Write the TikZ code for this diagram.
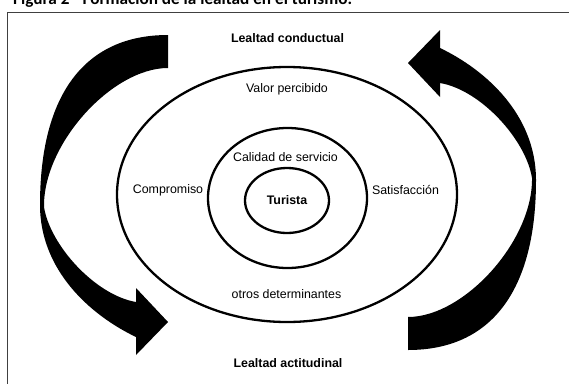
\documentclass[tikz,border=0pt]{standalone}
\usepackage{fontspec}
\setmainfont{Liberation Sans}
\newfontfamily\captionfont{Carlito}
\usetikzlibrary{shapes.geometric}

\begin{document}
\begin{tikzpicture}[x=1pt, y=-1pt,
    ring/.style={ellipse, draw, line width=2.3pt, inner sep=0pt},
    lbl/.style={font=\fontsize{12.4}{14}\selectfont, inner sep=0pt},
    lblb/.style={font=\fontsize{12.4}{14}\selectfont\bfseries, inner sep=0pt},
    frameline/.style={draw=black!75, line width=1pt},
    bentarrow/.pic={
      \fill (168,35) .. controls (85,35) and (40,94) .. (40,205)
        .. controls (40,270) and (90,315) .. (136,337)
        -- (136,355) -- (168,322) -- (136,288) -- (136,302)
        .. controls (95,295) and (50,245) .. (44,207)
        .. controls (43,144) and (112,68) .. (168,68) -- cycle;
    }]

    \useasboundingbox (0,0) rectangle (569,383);

    % caption, cut by the top edge
    \node[anchor=base west, inner sep=0pt,
          font=\captionfont\bfseries\fontsize{17.2}{20}\selectfont] (caption) at (13,4.5)
        {Figura 2 - Formación de la lealtad en el turismo.};
    \draw[frameline] (7,400) |- (600,12);

    % rings
    \node[ring, minimum width=340pt, minimum height=255pt] (outer) at (287,194.5) {};
    \node[ring, minimum width=159pt, minimum height=140pt] (middle) at (287.5,198) {};
    \node[ring, minimum width=84pt, minimum height=65pt, lblb] (inner) at (287,200.5) {Turista};

    % labels
    \node[lblb] (conduct) at (287.5,38)  {Lealtad conductual};
    \node[lbl]  (valor)   at (287,89)    {Valor percibido};
    \node[lbl]  (calidad) at (285.5,157) {Calidad de servicio};
    \node[lbl]  (comp)    at (168,190)   {Compromiso};
    \node[lbl]  (satis)   at (405.5,190) {Satisfacción};
    \node[lbl]  (otros)   at (286.5,294) {otros determinantes};
    \node[lblb] (actit)   at (288,363)   {Lealtad actitudinal};

    % loyalty arrows
    \pic at (0,0) {bentarrow};
    \pic[rotate=180] at (576,385) {bentarrow};

\end{tikzpicture}
\end{document}
